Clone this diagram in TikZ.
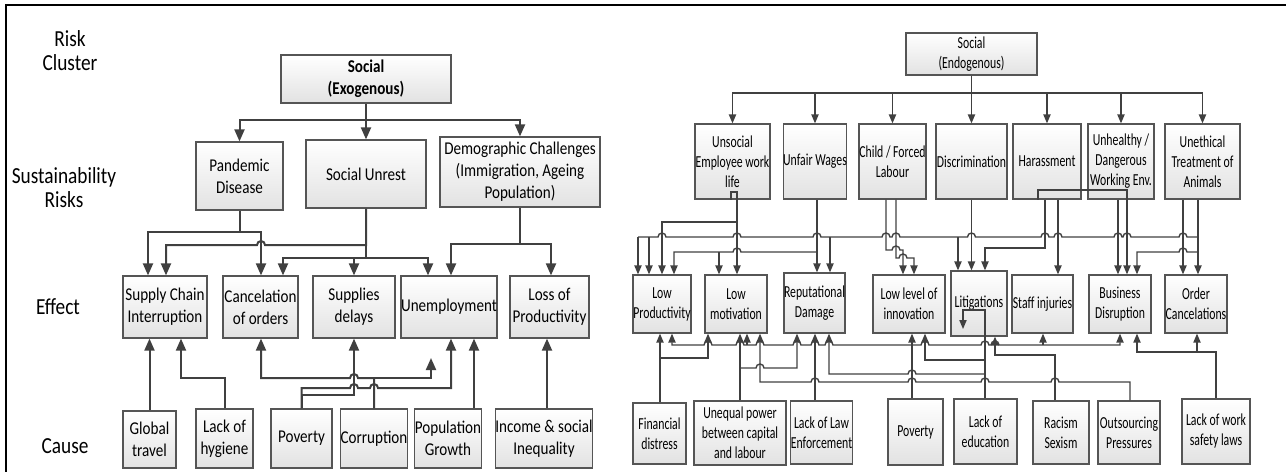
\documentclass[tikz,border=0pt]{standalone}
\usepackage{fontspec}
\setmainfont[FakeStretch=0.84]{Carlito}
\newfontfamily\narrowfont[FakeStretch=0.70]{Carlito}
\usepackage{tikz}
\usetikzlibrary{arrows.meta}

\definecolor{wire}{HTML}{404040}
\definecolor{boxline}{HTML}{555555}
\definecolor{boxfill}{HTML}{E2E2E2}

\newcommand{\lfont}{\fontsize{9}{11}\selectfont}
\newcommand{\rfont}{\narrowfont\fontsize{8.4}{10}\selectfont}
\newcommand{\labfont}{\fontsize{11.5}{12}\selectfont}
% line hops over a crossing wire, going left or right
\newcommand{\hopl}[2]{-- (#1+4,#2) arc[start angle=0,end angle=180,radius=2pt]}
\newcommand{\hopr}[2]{-- (#1-4,#2) arc[start angle=180,end angle=0,radius=2pt]}

\begin{document}
\begin{tikzpicture}[x=0.5pt,y=-0.5pt]
    % `spot' puts a box between two corners (x1/y1/x2/y2, in pixels).
    % `lbox' and `rbox' are the boxes of the exogenous and endogenous trees.
    % `larr' and `rarr' are their connectors, `rline' is a bus with no tip.
    \tikzset{spot/.style args={#1/#2/#3/#4}{at={({(#1+#3)/2},{(#2+#4)/2})},
        minimum width={(#3-#1)*0.5pt},minimum height={(#4-#2)*0.5pt}}}
    \tikzstyle{lbox} = [draw=boxline,line width=0.6pt,top color=white,bottom color=boxfill,
                        inner sep=0pt,align=center,font=\lfont]
    \tikzstyle{rbox} = [lbox,font=\rfont]
    \tikzstyle{larr} = [draw=wire,line width=1pt,-{Triangle[length=6pt,width=5pt]}]
    \tikzstyle{rarr} = [draw=wire,line width=0.7pt,-{Triangle[length=4.5pt,width=3.6pt]}]
    \tikzstyle{rline} = [draw=wire,line width=0.7pt]
    \tikzstyle{rowlabel} = [font=\labfont,align=center]
    %
    \useasboundingbox (0,0) rectangle (1286,472);
    \draw[line width=1pt] (5,5) -- (1286,5) (6,5) -- (6,472);
    %
    \node[rowlabel] (lclus) at (70,51) {Risk\\Cluster};
    \node[rowlabel] (lrisk) at (64,188) {Sustainability\\Risks};
    \node[rowlabel] (leff) at (58,307) {Effect};
    \node[rowlabel] (lcau) at (65,446) {Cause};
    %
    % exogenous tree
    \node[lbox,spot=281/55/451/103] (socexo) {\textbf{Social}\\\textbf{(Exogenous)}};
    \node[lbox,spot=196/142/283/210] (pand) {Pandemic\\Disease};
    \node[lbox,spot=306/140/426/208] (unrest) {Social Unrest};
    \node[lbox,spot=440/137/600/207] (demo) {Demographic Challenges\\(Immigration, Ageing\\Population)};
    \node[lbox,spot=123/276/207/338] (supch) {Supply Chain\\Interruption};
    \node[lbox,spot=223/276/298/338] (cancel) {Cancelation\\of orders};
    \node[lbox,spot=313/276/395/338] (suppl) {Supplies\\delays};
    \node[lbox,spot=402/276/496/338] (unemp) {Unemployment};
    \node[lbox,spot=510/276/589/338] (lossp) {Loss of\\Productivity};
    \node[lbox,spot=123/411/176/468] (glob) {Global\\travel};
    \node[lbox,spot=196/409/253/468] (hyg) {Lack of\\hygiene};
    \node[lbox,spot=271/409/332/468] (pov) {Poverty};
    \node[lbox,spot=341/409/407/468] (corr) {Corruption};
    \node[lbox,spot=415/409/481/468] (popg) {Population\\Growth};
    \node[lbox,spot=499/409/589/468] (inc) {Income \& social\\Inequality};
    %
    % endogenous tree
    \node[rbox,spot=906/33/1037/75] (socendo) {Social\\(Endogenous)};
    \node[rbox,spot=695/124/770/199] (unsoc) {Unsocial\\Employee work\\life};
    \node[rbox,spot=784/124/846/199] (unfair) {Unfair Wages};
    \node[rbox,spot=859/124/926/199] (child) {Child / Forced\\Labour};
    \node[rbox,spot=936/124/1007/199] (discr) {Discrimination};
    \node[rbox,spot=1013/124/1081/199] (harass) {Harassment};
    \node[rbox,spot=1088/124/1154/199] (unhea) {Unhealthy /\\Dangerous\\Working Env.};
    \node[rbox,spot=1165/124/1240/199] (uneth) {Unethical\\Treatment of\\Animals};
    \node[rbox,spot=633/275/691/333] (lprod) {Low\\Productivity};
    \node[rbox,spot=705/275/767/333] (lmot) {Low\\motivation};
    \node[rbox,spot=784/273/845/333] (repu) {Reputational\\Damage};
    \node[rbox,spot=873/275/945/333] (linno) {Low level of\\innovation};
    \node[rbox,spot=951/271/1007/336] (litig) {Litigations};
    \node[rbox,spot=1012/275/1073/333] (injur) {Staff injuries};
    \node[rbox,spot=1089/275/1151/333] (busd) {Business\\Disruption};
    \node[rbox,spot=1165/275/1227/333] (ordc) {Order\\Cancelations};
    \node[rbox,spot=633/403/686/464] (fin) {Financial\\distress};
    \node[rbox,spot=694/401/786/465] (uneq) {Unequal power\\between capital\\and labour};
    \node[rbox,spot=791/401/852/464] (law) {Lack of Law\\Enforcement};
    \node[rbox,spot=888/399/943/465] (pov2) {Poverty};
    \node[rbox,spot=954/399/1017/464] (edu) {Lack of\\education};
    \node[rbox,spot=1033/401/1089/464] (rac) {Racism\\Sexism};
    \node[rbox,spot=1098/401/1160/464] (outs) {Outsourcing\\Pressures};
    \node[rbox,spot=1182/399/1250/464] (safe) {Lack of work\\safety laws};
    %
    \coordinate (xbus) at (366,120);
    \coordinate (nbus) at (971.5,93);
    \coordinate (dangle) at (431,358);
    \coordinate (litin) at (963,329);
    %
    % exogenous: cluster -> risks -> effects
    \draw[larr] (socexo.south) -- (unrest.north);
    \draw[larr] (xbus) -| (pand.north);
    \draw[larr] (xbus) -| (demo.north);
    \draw[larr] (pand.south) -- ++(0,21) -| (148,0 |- supch.north);
    \draw[larr] (pand.south) -- ++(0,21) -| (261,0 |- cancel.north);
    \draw[larr] (unrest.south) -- (366,245) \hopl{261}{245} -| (166,0 |- supch.north);
    \draw[larr] (unrest.south) -- (366,258) -| (283,0 |- cancel.north);
    \draw[larr] (366,258) -| (354,0 |- suppl.north);
    \draw[larr] (366,258) -| (428,0 |- unemp.north);
    \draw[larr] (demo.south) -- ++(0,36) -| (451,0 |- unemp.north);
    \draw[larr] (demo.south) -- ++(0,36) -| (551,0 |- lossp.north);
    % exogenous: causes -> effects
    \draw[larr] (glob.north) -- (glob.north |- supch.south);
    \draw[larr] (hyg.north) |- (181,378) -- (181,0 |- supch.south);
    \draw[larr] (corr.north) -- (374,378) \hopl{354}{378} -| (261,0 |- cancel.south);
    \draw[larr] (374,378) -| (dangle);
    \draw[larr] (pov.north) |- (354,395) -- (354,0 |- suppl.south);
    \draw[larr] (pov.north) -- (301.5,388) \hopr{354}{388} \hopr{374}{388} -| (451,0 |- unemp.south);
    \draw[larr] (474,0 |- popg.north) -- (474,0 |- unemp.south);
    \draw[larr] (547,0 |- inc.north) -- (547,0 |- lossp.south);
    %
    % endogenous: cluster -> risks
    \draw[rarr] (socendo.south) -- (discr.north);
    \foreach \e in {unsoc,unfair,child,harass,unhea,uneth}
        \draw[rarr] (nbus) -| (\e.north);
    % endogenous: risks -> effects
    \draw[rarr] (731,0 |- unsoc.south) -- (731,192) -- (737,192) -- (737,0 |- lmot.north);
    \draw[rarr] (737,222) -| (662,0 |- lprod.north);
    \draw[rarr] (817,0 |- unfair.south) -- (817,0 |- repu.north);
    \draw[rarr] (817,252) \hopl{737}{252} -| (674,0 |- lprod.north);
    \draw[rarr] (719,252) -- (719,0 |- lmot.north);
    \draw[rarr] (886,0 |- child.south) -- (886,250) \hopr{896}{250} -| (903,0 |- linno.north);
    \draw[rarr] (896,0 |- child.south) -- (896,258) \hopr{903}{258} -| (914,0 |- linno.north);
    \draw[rarr] (discr.south) -- (discr.south |- litig.north);
    \draw[rarr] (1045,0 |- harass.south) |- (985,248) -- (985,0 |- litig.north);
    \draw[rarr] (1058,0 |- harass.south) -- (1058,0 |- injur.north);
    \draw[rarr] (1038,0 |- harass.south) -- (1038,190) -- (1127,190) -- (1127,0 |- busd.north);
    \draw[rarr] (1118,0 |- unhea.south) -- (1118,0 |- busd.north);
    \draw[rarr] (1183,0 |- uneth.south) -- (1183,0 |- ordc.north);
    \draw[rarr] (1198,0 |- uneth.south) -- (1198,0 |- ordc.north);
    \draw[rarr] (1198,252) \hopl{1183}{252} -| (1137,0 |- busd.north);
    \draw[rline] (1198,237) \hopl{1183}{237} \hopl{1127}{237} \hopl{1118}{237} \hopl{1058}{237}
        \hopl{1045}{237} \hopl{971.5}{237} \hopl{896}{237} \hopl{886}{237} \hopl{817}{237}
        \hopl{737}{237} \hopl{662}{237} -- (638,237);
    \foreach \x/\e in {638/lprod,649/lprod,830/repu,958/litig}
        \draw[rarr] (\x,237) -- (\x,0 |- \e.north);
    % endogenous: causes -> effects
    \draw[rarr] (660,0 |- fin.north) -- (660,0 |- lprod.south);
    \draw[rarr] (660,358) -| (708,0 |- lmot.south);
    \draw[rarr] (740,0 |- uneq.north) -- (740,0 |- lmot.south);
    \draw[rarr] (740,368) \hopr{760}{368} -| (797,0 |- repu.south);
    \draw[rarr] (815,0 |- law.north) -- (815,0 |- repu.south);
    \draw[rarr] (912,0 |- pov2.north) -- (912,0 |- linno.south);
    \draw[rarr] (985,0 |- edu.north) -- (985,310) -| (litin);
    \draw[rarr] (985,360) -| (925,0 |- linno.south);
    \draw[rarr] (985,374) \hopl{912}{374} -| (829,0 |- repu.south);
    \draw[rarr] (1055,0 |- rac.north) |- (995,355) -- (995,0 |- litig.south);
    \draw[rarr] (1130,0 |- outs.north) -- (1130,382) \hopl{1055}{382} \hopl{985}{382}
        \hopl{912}{382} \hopl{815}{382} -| (760,0 |- lmot.south);
    \draw[rarr] (1216,0 |- safe.north) |- (1137,352) -- (1137,0 |- busd.south);
    \draw[rarr] (1197,352) -- (1197,0 |- ordc.south);
    \draw[rarr] (912,345) \hopl{829}{345} \hopl{815}{345} \hopl{797}{345} \hopl{760}{345}
        \hopl{740}{345} \hopl{708}{345} -| (672,0 |- lprod.south);
    \draw[rarr] (912,345) \hopr{925}{345} \hopr{985}{345} \hopr{995}{345} -| (1120,0 |- busd.south);
    \draw[rarr] (747,345) -- (747,0 |- lmot.south);
    \draw[rarr] (1043,345) -- (1043,0 |- injur.south);
\end{tikzpicture}
\end{document}
